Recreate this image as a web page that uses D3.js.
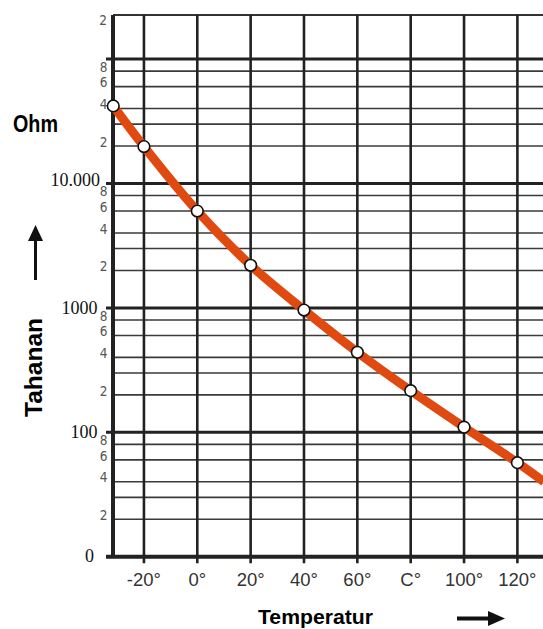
<!DOCTYPE html>
<html>
<head>
<meta charset="utf-8">
<script src="https://cdn.jsdelivr.net/npm/d3@7"></script>
<style>
  html, body { margin: 0; padding: 0; background: #fff; }
  svg { display: block; }
</style>
</head>
<body>
<svg id="chart" width="543" height="629"></svg>
<script>
// ---- data ----
const temps = [-31.5, -20, 0, 20, 40, 60, 80, 100, 120];          // °C
const ohms  = [42000, 19800, 6000, 2200, 960, 440, 216, 110, 57];  // Ohm
const tailTemp = 130, tailOhm = 40;                                // curve continues past last marker

const xTickValues = [-20, 0, 20, 40, 60, 80, 100, 120];
const xTickLabels = ["-20°", "0°", "20°", "40°", "60°", "C°", "100°", "120°"];

const decades = [10, 100, 1000, 10000, 100000];
const decadeLabels = ["0", "100", "1000", "10.000", ""];
const minorMultipliers = [8, 6, 4, 3, 2];
const minorLabels = ["8", "6", "4", "", "2"];

const xDomain = [-31.6, 129.6];
const yDomain = [10, 226000];

(function () {
// ---- layout ----
const svg = d3.select("#chart");
const pLeft = 113, pRight = 543, pTop = 15, pBottom = 556.7;

const x = d3.scaleLinear().domain(xDomain).range([pLeft, pRight]);
const y = d3.scaleLog().domain(yDomain).range([pBottom, pTop]);

const grid = svg.append("g");

// minor horizontal lines
const minorVals = [];
decades.forEach(d => minorMultipliers.forEach((m, i) => {
  const v = d * m / 10;
  if (v > 10 && v < yDomain[1]) minorVals.push({v, label: minorLabels[i]});
}));
grid.selectAll(".minor").data(minorVals).enter().append("line")
  .attr("x1", pLeft).attr("x2", pRight)
  .attr("y1", d => y(d.v)).attr("y2", d => y(d.v))
  .attr("stroke", "#3a3a3a").attr("stroke-width", 1.6);

// top border
grid.append("line").attr("x1", pLeft).attr("x2", pRight)
  .attr("y1", y(yDomain[1])).attr("y2", y(yDomain[1]))
  .attr("stroke", "#333").attr("stroke-width", 2);

// major horizontal lines
grid.selectAll(".major").data(decades.slice(1)).enter().append("line")
  .attr("x1", 106).attr("x2", pRight)
  .attr("y1", d => y(d)).attr("y2", d => y(d))
  .attr("stroke", "#222").attr("stroke-width", 3);

// vertical lines
grid.selectAll(".vline").data(xTickValues).enter().append("line")
  .attr("x1", d => x(d)).attr("x2", d => x(d))
  .attr("y1", y(yDomain[1])).attr("y2", pBottom + 6.5)
  .attr("stroke", "#222").attr("stroke-width", 2.6);

// left border
grid.append("line").attr("x1", pLeft).attr("x2", pLeft)
  .attr("y1", y(yDomain[1])).attr("y2", pBottom)
  .attr("stroke", "#222").attr("stroke-width", 4);

// bottom axis
grid.append("line").attr("x1", 106).attr("x2", pRight)
  .attr("y1", pBottom).attr("y2", pBottom)
  .attr("stroke", "#222").attr("stroke-width", 4);

// ---- y labels ----
const labels = svg.append("g");
const narrow = "'Liberation Sans Narrow', 'DejaVu Sans Condensed', sans-serif";
labels.selectAll(".minorLbl").data(minorVals.filter(d => d.label)).enter().append("text")
  .attr("x", 107.5).attr("y", d => y(d.v)).attr("dy", "0.05em")
  .attr("text-anchor", "end")
  .attr("font-family", narrow)
  .attr("font-size", 13.5).attr("fill", "#555")
  .text(d => d.label);
// top "2"
labels.append("text").attr("x", 107).attr("y", y(yDomain[1])).attr("dy", "0.75em")
  .attr("text-anchor", "end")
  .attr("font-family", narrow)
  .attr("font-size", 13.5).attr("fill", "#555").text("2");

labels.selectAll(".majorLbl").data(decades.map((d, i) => ({v: d, label: decadeLabels[i]})).filter(d => d.label))
  .enter().append("text")
  .attr("x", d => d.v === 10 ? 94 : (d.v === 10000 ? 100 : 97.5))
  .attr("y", d => y(d.v)).attr("dy", d => d.v === 10000 ? "0.15em" : "0.32em")
  .attr("text-anchor", "end")
  .attr("font-family", "'Liberation Serif', 'DejaVu Serif', serif")
  .attr("font-size", 18).attr("fill", "#111")
  .text(d => d.label);

// ---- x labels ----
labels.selectAll(".xLbl").data(xTickValues).enter().append("text")
  .attr("x", d => x(d)).attr("y", 586)
  .attr("text-anchor", "middle")
  .attr("font-family", "'Liberation Sans', Arial, sans-serif")
  .attr("font-size", 18.5).attr("fill", "#333")
  .text((d, i) => xTickLabels[i]);

// ---- curve ----
const pts = temps.map((t, i) => [x(t), y(ohms[i])]);
const curvePts = pts.concat([[x(tailTemp), y(tailOhm)]]);
svg.append("path")
  .attr("d", d3.line().curve(d3.curveCatmullRom.alpha(0.5))(curvePts))
  .attr("fill", "none").attr("stroke", "#e04a10").attr("stroke-width", 9);

svg.selectAll(".pt").data(pts).enter().append("circle")
  .attr("cx", d => d[0]).attr("cy", d => d[1]).attr("r", 5.8)
  .attr("fill", "#fff").attr("stroke", "#111").attr("stroke-width", 1.6);

// ---- titles ----
const bold = "'Liberation Sans', Arial, sans-serif";
svg.append("text").attr("x", 13).attr("y", 131.5)
  .attr("font-family", bold).attr("font-weight", "bold").attr("font-size", 24)
  .attr("textLength", 45).attr("lengthAdjust", "spacingAndGlyphs").attr("fill", "#000")
  .text("Ohm");

svg.append("text").attr("transform", "translate(41.5,367.5) rotate(-90)")
  .attr("text-anchor", "middle")
  .attr("font-family", bold).attr("font-weight", "bold").attr("font-size", 24)
  .attr("textLength", 99).attr("lengthAdjust", "spacingAndGlyphs").attr("fill", "#000")
  .text("Tahanan");

svg.append("text").attr("x", 258).attr("y", 623.5)
  .attr("font-family", bold).attr("font-weight", "bold").attr("font-size", 19.5)
  .attr("textLength", 115).attr("lengthAdjust", "spacingAndGlyphs").attr("fill", "#000")
  .text("Temperatur");

// arrows
svg.append("line").attr("x1", 35.5).attr("x2", 35.5).attr("y1", 280).attr("y2", 238)
  .attr("stroke", "#111").attr("stroke-width", 3);
svg.append("path").attr("d", "M35.5,225 L43,241 L28,241 Z").attr("fill", "#111");

svg.append("line").attr("x1", 457).attr("x2", 492).attr("y1", 618.5).attr("y2", 618.5)
  .attr("stroke", "#111").attr("stroke-width", 4);
svg.append("path").attr("d", "M505,618.5 L488,611 L488,626 Z").attr("fill", "#111");
})();
</script>
</body>
</html>
